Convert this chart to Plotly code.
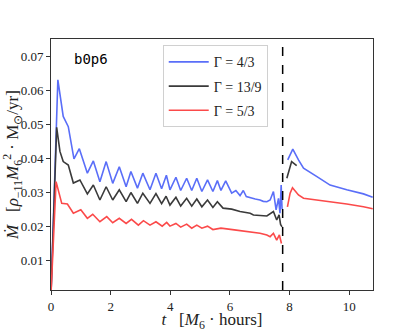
import plotly.graph_objects as go

# accretion rate vs time; None marks the break at the dashed line
t_blue = [0.0, 0.23, 0.41, 0.58, 0.77, 0.95, 1.22, 1.42, 1.64, 1.85, 2.07, 2.29, 2.52, 2.68,
          2.90, 3.08, 3.32, 3.52, 3.71, 3.87, 3.99, 4.19, 4.35, 4.55, 4.72, 4.89, 5.06, 5.25,
          5.43, 5.58, 5.70, 5.86, 6.06, 6.20, 6.34, 6.45, 6.55, 6.68, 6.85, 7.01, 7.12, 7.24,
          7.35, 7.46, 7.55, 7.63, 7.68, 7.72, 7.75, None,
          7.94, 8.11, 8.30, 8.47, 8.92, 9.36, 9.92, 10.48, 10.79]
m_blue = [0.0, 0.0631, 0.0523, 0.0493, 0.0398, 0.0428, 0.0356, 0.0392, 0.0331, 0.0390, 0.0326,
          0.0375, 0.0316, 0.0361, 0.0312, 0.0356, 0.0307, 0.0356, 0.0310, 0.0350, 0.0307,
          0.0344, 0.0305, 0.0341, 0.0305, 0.0341, 0.0302, 0.0336, 0.0302, 0.0334, 0.0305,
          0.0333, 0.0297, 0.0305, 0.0290, 0.0305, 0.0287, 0.0283, 0.0280, 0.0277, 0.0273,
          0.0272, 0.0277, 0.0302, 0.0248, 0.0282, 0.0238, 0.0321, 0.0250, None,
          0.0395, 0.0427, 0.0395, 0.0371, 0.0346, 0.0321, 0.0307, 0.0295, 0.0285]

t_black = [0.0, 0.19, 0.30, 0.41, 0.58, 0.75, 0.97, 1.22, 1.42, 1.64, 1.85, 2.07, 2.29, 2.52,
           2.68, 2.90, 3.08, 3.32, 3.52, 3.71, 3.86, 3.99, 4.19, 4.35, 4.55, 4.72, 4.89, 5.06,
           5.25, 5.43, 5.58, 5.77, 6.06, 6.34, 6.68, 6.79, 7.24, 7.46, 7.57, 7.65, 7.70, 7.75,
           None, 7.91, 8.02, 8.07, 8.24]
m_black = [0.0, 0.0491, 0.0420, 0.0390, 0.0380, 0.0327, 0.0336, 0.0295, 0.0321, 0.0277,
           0.0316, 0.0277, 0.0307, 0.0272, 0.0299, 0.0267, 0.0297, 0.0267, 0.0296, 0.0266,
           0.0288, 0.0262, 0.0285, 0.0259, 0.0282, 0.0259, 0.0280, 0.0257, 0.0277, 0.0255,
           0.0272, 0.0253, 0.0250, 0.0243, 0.0238, 0.0233, 0.0230, 0.0243, 0.0218, 0.0233,
           0.0205, 0.0198, None, 0.0341, 0.0380, 0.0390, 0.0378]

t_red = [0.0, 0.17, 0.36, 0.55, 0.75, 1.00, 1.22, 1.40, 1.64, 1.87, 2.07, 2.29, 2.52, 2.70,
         2.93, 3.10, 3.32, 3.52, 3.73, 3.88, 3.99, 4.19, 4.35, 4.55, 4.72, 4.89, 5.06, 5.25,
         5.43, 5.70, 6.15, 6.60, 7.01, 7.24, 7.35, 7.46, 7.57, 7.66, 7.73, None,
         7.93, 8.02, 8.10, 8.30, 8.47, 8.92, 9.36, 9.92, 10.48, 10.79]
m_red = [0.0, 0.0331, 0.0267, 0.0265, 0.0238, 0.0248, 0.0223, 0.0235, 0.0213, 0.0228, 0.0210,
         0.0223, 0.0208, 0.0220, 0.0203, 0.0216, 0.0203, 0.0213, 0.0200, 0.0211, 0.0200,
         0.0208, 0.0197, 0.0206, 0.0194, 0.0203, 0.0194, 0.0200, 0.0190, 0.0194, 0.0189,
         0.0184, 0.0179, 0.0174, 0.0169, 0.0179, 0.0159, 0.0174, 0.0149, None,
         0.0257, 0.0297, 0.0313, 0.0292, 0.0282, 0.0277, 0.0272, 0.0265, 0.0257, 0.0251]

labels = ["Γ = 4/3", "Γ = 13/9", "Γ = 5/3"]
colours = ["#5a6ef8", "#3a3a3a", "#fb4a4a"]
t_switch = 7.77
x_ticks = [0, 2, 4, 6, 8, 10]
y_ticks = [0.01, 0.02, 0.03, 0.04, 0.05, 0.06, 0.07]

serif = "Liberation Serif"

fig = go.Figure()
for i, (t, m) in enumerate([(t_blue, m_blue), (t_black, m_black), (t_red, m_red)]):
    fig.add_trace(go.Scatter(
        x=t, y=m, mode="lines", name=labels[i], legendgroup=str(i),
        line=dict(color=colours[i], width=1.6), connectgaps=False,
    ))

# switch time
fig.add_shape(type="line", x0=t_switch, x1=t_switch, y0=0, y1=1,
              xref="x", yref="paper", line=dict(color="black", width=1.5, dash="dash"))

fig.add_annotation(x=1.34, y=0.0693, xref="x", yref="y", text="b0p6", showarrow=False,
                   font=dict(family="DejaVu Sans Mono", size=14, color="black"))

axis_style = dict(showgrid=False, zeroline=False, showline=True, linecolor="#333333",
                  linewidth=1, mirror=True, ticks="outside", ticklen=4, tickwidth=0.8,
                  tickcolor="#333333", automargin=False,
                  tickfont=dict(family=serif, size=13, color="#222222"))

fig.update_xaxes(range=[0, 10.8], tickvals=x_ticks, ticktext=[str(v) for v in x_ticks],
                 title=dict(text="<i>t</i>   [<i>M</i><sub>6</sub> · hours]",
                            font=dict(family=serif, size=17, color="#222222"), standoff=4),
                 **axis_style)
fig.update_yaxes(range=[0.0012, 0.0751], tickvals=y_ticks,
                 ticktext=[f"{v:.2f}" for v in y_ticks],
                 title=dict(text="<i>Ṁ</i>   [<i>ρ</i><sub>−11</sub><i>M</i><sub>6</sub><sup>2</sup>"
                                 " · M<sub>⊙</sub>/yr]",
                            font=dict(family=serif, size=17, color="#222222"), standoff=2),
                 **axis_style)

fig.update_layout(
    width=415, height=332,
    margin=dict(l=51, r=42, t=39, b=42),
    plot_bgcolor="white", paper_bgcolor="white",
    legend=dict(x=0.347, y=0.975, xanchor="left", yanchor="top",
                bgcolor="white", bordercolor="#d0d0d0", borderwidth=1,
                font=dict(family=serif, size=14, color="#222222"),
                tracegroupgap=3, itemwidth=40),
)

# drop the default page margin so the figure sits at the window's corner
fig.write_html("out.html", config={"displayModeBar": False},
               post_script="document.body.style.margin = '0';")
